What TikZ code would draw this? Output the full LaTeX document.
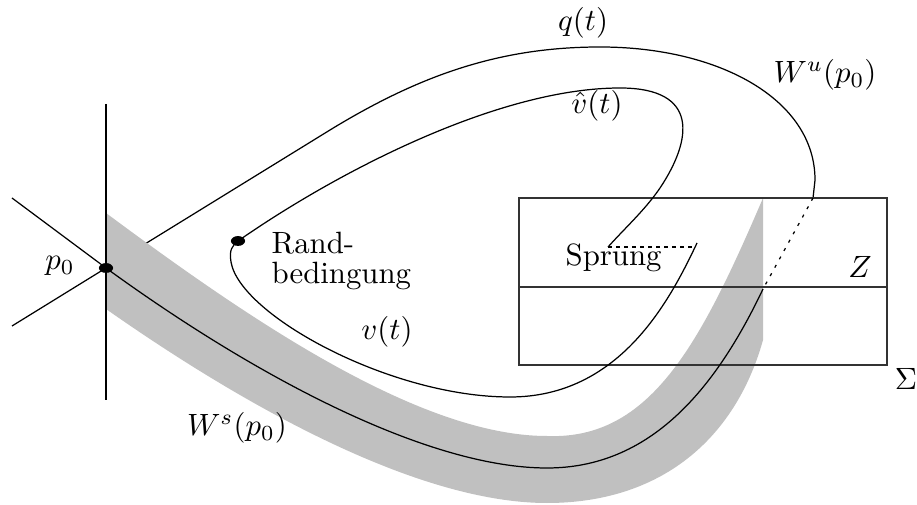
\documentclass[tikz,border=0pt]{standalone}
\usepackage{amsmath}
\usetikzlibrary{shapes.geometric}
\definecolor{bandgray}{RGB}{192,192,192}
\tikzset{
  lbl/.style={inner sep=0pt},
  curve/.style={line width=0.4pt, black},
  pointdot/.style={ellipse, fill=black, minimum width=4.6pt, minimum height=3.2pt, inner sep=0pt},
}
\begin{document}
\begin{tikzpicture}[x=0.3247pt,y=-0.3247pt]
\useasboundingbox (0,0) rectangle (917,505);
% named points
\coordinate (p0) at (106,268);
\coordinate (rb) at (238,241);
\coordinate (sprA) at (608,247);
\coordinate (sprB) at (695,247);
\coordinate (qin) at (813,198);
\coordinate (wsout) at (763,289);
% unstable manifold / q(t)
\draw[curve] (12,326) -- (p0) -- (330,130) .. controls (420,75) and (500,47) .. (600,47)
  .. controls (720,47) and (815,100) .. (815,180) -- (qin);
% gray band
\fill[bandgray] (106,213) .. controls (250,320) and (420,436) .. (547,436)
  .. controls (650,440) and (700,345) .. (763,198) -- (763,340)
  .. controls (735,440) and (660,503) .. (547,503)
  .. controls (420,503) and (250,410) .. (106,309) -- cycle;
% box Sigma / Z
\draw[black!80] (519,198) rectangle (887,365);
\draw[black!80] (519,287) -- (887,287);
% stable manifold
\draw[curve] (12,198) -- (p0) .. controls (260,380) and (430,468) .. (547,468)
  .. controls (650,468) and (715,390) .. (wsout);
\draw[curve, dash pattern=on 1pt off 2.1pt] (qin) -- (wsout);
% vertical line
\draw[curve] (106,104) -- (106,400);
% v(t) and hat v(t)
\draw[curve] (697,243) .. controls (670,300) and (620,397) .. (510,397)
  .. controls (390,397) and (240,315) .. (231,262)
  .. controls (229,250) and (232,246) .. (rb)
  .. controls (340,170) and (500,88) .. (620,88)
  .. controls (700,88) and (692,140) .. (660,188)
  .. controls (645,210) and (625,228) .. (sprA);
\draw[curve, dash pattern=on 1.3pt off 1.3pt] (sprA) -- (sprB);
% dots
\node[pointdot] (p0dot) at (p0) {};
\node[pointdot] (rbdot) at (rb) {};
% labels
\node[lbl] (lp0) at (60,266) {$p_0$};
\node[lbl] (lq) at (583,23) {$q(t)$};
\node[lbl] (lvh) at (597,106) {$\hat v(t)$};
\node[lbl] (lwu) at (825,75) {$W^u(p_0)$};
\node[lbl, anchor=base west] (lrand) at (271,254) {Rand-};
\node[lbl, anchor=base west] (lbed) at (271,284) {bedingung};
\node[lbl, anchor=base west] (lspr) at (565,266) {Sprung};
\node[lbl] (lz) at (860,267) {$Z$};
\node[lbl] (lsig) at (906,379) {$\Sigma$};
\node[lbl] (lv) at (387,332) {$v(t)$};
\node[lbl] (lws) at (237,428) {$W^s(p_0)$};
\end{tikzpicture}
\end{document}
